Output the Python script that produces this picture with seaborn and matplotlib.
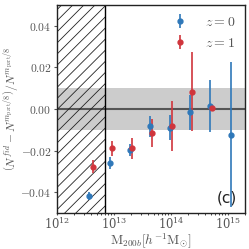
"""Relative difference in halo counts vs mass, fiducial vs m_part/8 run."""

import matplotlib

matplotlib.use("Agg")

import matplotlib.pyplot as plt
import seaborn as sns

# z = 0
mass_z0 = [3.7e12, 8.5e12, 1.92e13, 4.3e13, 9.7e13, 2.17e14, 4.9e14, 1.13e15]
diff_z0 = [-0.0418, -0.0259, -0.0198, -0.0083, -0.0091, -0.0016, 0.0014, -0.0123]
err_z0 = [0.002, 0.003, 0.003, 0.005, 0.006, 0.0085, 0.0125, 0.035]

# z = 1
mass_z1 = [4.2e12, 9.4e12, 2.1e13, 4.7e13, 1.06e14, 2.39e14, 5.37e14]
diff_z1 = [-0.0277, -0.019, -0.0189, -0.0117, -0.008, 0.0082, 0.0003]
err_z1 = [0.003, 0.0035, 0.005, 0.0067, 0.012, 0.019, 0.0015]

y_ticks = [-0.04, -0.02, 0.0, 0.02, 0.04]
mass_cut = 7e12
band = 0.01

sns.set_theme(style="ticks")
plt.rcParams["font.family"] = ["DejaVu Serif"]
plt.rcParams["mathtext.fontset"] = "cm"
plt.rcParams["hatch.linewidth"] = 0.6

fig = plt.figure(figsize=(2.49, 2.49), dpi=100)
ax = fig.add_axes([0.229, 0.145, 0.755, 0.835])

blue = "#2f78b9"
red = "#d0353c"

ax.axhspan(-band, band, color="#cccccc", lw=0, zorder=0)
ax.axhline(0, color="#555555", lw=1.5, zorder=1)
ax.axvspan(1e12, mass_cut, facecolor="none", edgecolor="#222222", hatch="///", lw=0, zorder=1)
ax.axvline(mass_cut, color="black", lw=1.0, zorder=2)

for m, d, e, c, lab in [
    (mass_z0, diff_z0, err_z0, blue, "$z=0$"),
    (mass_z1, diff_z1, err_z1, red, "$z=1$"),
]:
    ax.errorbar(m, d, yerr=e, fmt="o", color=c, ms=3.5, elinewidth=1.2, capsize=0, label=lab, zorder=3)

ax.set_xscale("log")
ax.set_xlim(1e12, 2e15)
ax.set_ylim(-0.05, 0.05)
ax.set_yticks(y_ticks)
ax.set_yticklabels([f"${v:.2f}$" for v in y_ticks])

ax.set_xlabel(r"$\mathrm{M}_{200b}[h^{-1}\mathrm{M}_{\odot}]$", fontsize=9.5, color="#555555")
ax.xaxis.set_label_coords(0.5, -0.09)
ax.set_ylabel(
    r"$\left(N^{fid}-N^{m_{\rm part}/8}\right)/N^{m_{\rm part}/8}$",
    fontsize=8.3, color="#555555",
)
ax.yaxis.set_label_coords(-0.195, 0.5)
ax.tick_params(axis="both", labelsize=8.3, colors="#555555", length=2.5, width=0.8, pad=1.5)
ax.tick_params(axis="x", which="major", length=1.5, pad=0.5)
ax.tick_params(axis="x", which="minor", length=1.2, width=0.6)
for s in ax.spines.values():
    s.set_color("#222222")
    s.set_linewidth(1.0)

leg = ax.legend(loc="upper right", frameon=False, fontsize=10, handletextpad=0.8, borderaxespad=0.3)
for t in leg.get_texts():
    t.set_color("#555555")

ax.text(0.955, 0.035, "(c)", transform=ax.transAxes, ha="right", va="bottom",
        fontsize=11, family="DejaVu Sans", color="#222222")

fig.savefig("out.png", dpi=100)
